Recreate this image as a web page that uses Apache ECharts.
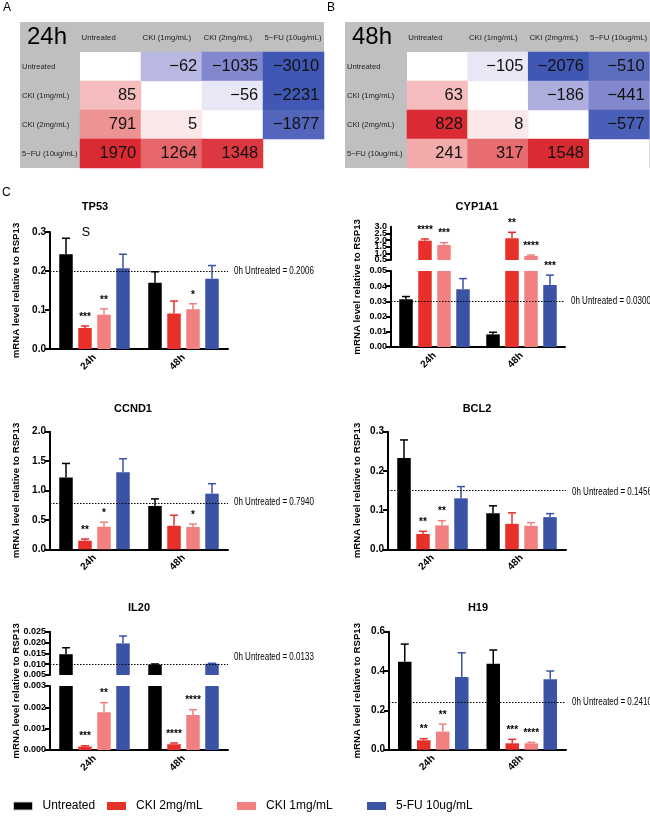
<!DOCTYPE html>
<html><head><meta charset="utf-8">
<script src="https://cdn.jsdelivr.net/npm/echarts@6/dist/echarts.min.js"></script>
<style>html,body{margin:0;padding:0;background:#fff}#c{width:650px;height:820px}</style>
</head><body><div id="c"></div>
<script>
// ---------- DATA ----------
const heatCols = ['Untreated', 'CKI (1mg/mL)', 'CKI (2mg/mL)', '5\u2212FU (10ug/mL)'];
const heatRows = ['Untreated', 'CKI (1mg/mL)', 'CKI (2mg/mL)', '5\u2212FU (10ug/mL)'];
const fold24 = [[null, -62, -1035, -3010], [85, null, -56, -2231], [791, 5, null, -1877], [1970, 1264, 1348, null]];
const fold48 = [[null, -105, -2076, -510], [63, null, -186, -441], [828, 8, null, -577], [241, 317, 1548, null]];
// colour intensity (significance shade) of each cell, 0..1
const shade24 = [[0, 0.35, 0.62, 0.95], [0.35, 0, 0.12, 0.95], [0.55, 0.12, 0, 0.85], [0.95, 0.72, 0.9, 0]];
const shade48 = [[0, 0.12, 0.95, 0.8], [0.35, 0, 0.4, 0.62], [0.95, 0.12, 0, 0.9], [0.45, 0.7, 0.95, 0]];

const groups = ['24h', '48h'];
const treatments = ['Untreated', 'CKI 2mg/mL', 'CKI 1mg/mL', '5-FU 10ug/mL'];

const tp53Mean = [[0.243, 0.170], [0.054, 0.091], [0.088, 0.102], [0.207, 0.180]];
const tp53Err = [[0.041, 0.028], [0.005, 0.032], [0.015, 0.014], [0.036, 0.034]];
const tp53Sig = [['', ''], ['***', ''], ['**', '*'], ['', '']];
const tp53Base = 0.2006;

const cyp1a1Mean = [[0.0314, 0.0083], [1.95, 2.13], [1.63, 0.80], [0.038, 0.0408]];
const cyp1a1Err = [[0.0018, 0.0014], [0.13, 0.45], [0.17, 0.07], [0.007, 0.0065]];
const cyp1a1Sig = [['', ''], ['****', '**'], ['***', '****'], ['', '***']];
const cyp1a1Base = 0.0300;

const ccnd1Mean = [[1.22, 0.737], [0.146, 0.40], [0.385, 0.38], [1.31, 0.946]];
const ccnd1Err = [[0.24, 0.12], [0.029, 0.18], [0.075, 0.05], [0.23, 0.17]];
const ccnd1Sig = [['', ''], ['**', ''], ['*', '*'], ['', '']];
const ccnd1Base = 0.7940;

const bcl2Mean = [[0.233, 0.092], [0.039, 0.065], [0.061, 0.060], [0.130, 0.082]];
const bcl2Err = [[0.046, 0.019], [0.007, 0.028], [0.012, 0.008], [0.030, 0.009]];
const bcl2Sig = [['', ''], ['**', ''], ['**', ''], ['', '']];
const bcl2Base = 0.1456;

const il20Mean = [[0.0146, 0.0098], [0.00016, 0.00027], [0.00177, 0.00164], [0.0196, 0.0102]];
const il20Err = [[0.003, 0.0003], [0.00004, 0.00006], [0.00045, 0.00025], [0.0034, 0.0002]];
const il20Sig = [['', ''], ['***', '****'], ['**', '****'], ['', '']];
const il20Base = 0.0133;

const h19Mean = [[0.447, 0.437], [0.048, 0.0325], [0.092, 0.0325], [0.37, 0.358]];
const h19Err = [[0.09, 0.07], [0.008, 0.02], [0.038, 0.005], [0.123, 0.042]];
const h19Sig = [['', ''], ['**', '***'], ['**', '****'], ['', '']];
const h19Base = 0.2410;

// ---------- LAYOUT / STYLE ----------
const colors = ['#000000', '#e8302b', '#f28080', '#3a53a4'];
const SANS = "'Liberation Sans',Arial,Helvetica,sans-serif";
const BW = 13.5, GAP = 5.5;

const panels = [
  {name: 'TP53', mean: tp53Mean, err: tp53Err, sig: tp53Sig, base: tp53Base,
   L: {left: 50, right: 228, title: [95, 207], ylab: 16,
       segs: [{top: 232, bottom: 349, min: 0, max: 0.3, interval: 0.1, dec: 1, fs: 10}]}},
  {name: 'CYP1A1', mean: cyp1a1Mean, err: cyp1a1Err, sig: cyp1a1Sig, base: cyp1a1Base,
   L: {left: 391, right: 565, title: [477, 207], ylab: 357,
       segs: [{top: 226.7, bottom: 260, min: 0.5, max: 3, interval: 0.5, dec: 1, fs: 9, dense: true},
              {top: 271, bottom: 347, min: 0, max: 0.05, interval: 0.01, dec: 2, fs: 9}]}},
  {name: 'CCND1', mean: ccnd1Mean, err: ccnd1Err, sig: ccnd1Sig, base: ccnd1Base,
   L: {left: 50, right: 228, title: [133, 409], ylab: 16,
       segs: [{top: 431.7, bottom: 549.3, min: 0, max: 2, interval: 0.5, dec: 1, fs: 10}]}},
  {name: 'BCL2', mean: bcl2Mean, err: bcl2Err, sig: bcl2Sig, base: bcl2Base,
   L: {left: 388, right: 566, title: [477, 409], ylab: 357,
       segs: [{top: 431.7, bottom: 549.3, min: 0, max: 0.3, interval: 0.1, dec: 1, fs: 10}]}},
  {name: 'IL20', mean: il20Mean, err: il20Err, sig: il20Sig, base: il20Base,
   L: {left: 50, right: 228, title: [139, 608], ylab: 16,
       segs: [{top: 631.7, bottom: 675, min: 0.005, max: 0.025, interval: 0.005, dec: 3, fs: 9},
              {top: 686, bottom: 750, min: 0, max: 0.003, interval: 0.001, dec: 3, fs: 9}]}},
  {name: 'H19', mean: h19Mean, err: h19Err, sig: h19Sig, base: h19Base,
   L: {left: 389, right: 566, title: [478, 608], ylab: 357,
       segs: [{top: 631.7, bottom: 749.7, min: 0, max: 0.6, interval: 0.2, dec: 1, fs: 10}]}}
];

const option = {
  animation: false,
  textStyle: {fontFamily: SANS},
  grid: [], xAxis: [], yAxis: [], series: [], graphic: [], legend: [], visualMap: []
};

// ---------- HEATMAPS ----------
function addHeat(values, shades, label, L) {
  const gi = option.grid.length;
  const yi = option.yAxis.length;
  option.grid.push({left: L.left, top: 52, width: L.width, height: 116, show: true,
    backgroundColor: '#ffffff', borderWidth: 0, containLabel: false});
  option.xAxis.push({type: 'category', gridIndex: gi, position: 'top', data: heatCols,
    axisLine: {show: false}, axisTick: {show: false}, splitLine: {show: false},
    axisLabel: {interval: 0, margin: 10, formatter: '{a|{value}}',
      rich: {a: {width: 58, align: 'left', fontSize: 7.8, fontFamily: SANS, color: '#222'}}}});
  option.yAxis.push({type: 'category', gridIndex: gi, inverse: true, data: heatRows,
    axisLine: {show: false}, axisTick: {show: false}, splitLine: {show: false},
    axisLabel: {interval: 0, align: 'left', margin: L.left - L.bg - 2, fontSize: 7.6, fontFamily: SANS, color: '#222'}});
  const data = [];
  values.forEach((row, r) => row.forEach((v, c) => {
    if (v !== null) data.push([c, r, v, Math.sign(v) * shades[r][c]]);
  }));
  option.series.push({type: 'heatmap', xAxisIndex: gi, yAxisIndex: yi, data: data, silent: true,
    label: {show: true, position: 'insideRight', distance: 5, fontSize: 16.5, color: '#111', fontFamily: SANS,
      formatter: p => String(p.value[2]).replace('-', '\u2212')}});
  option.visualMap.push({type: 'continuous', show: false, dimension: 3, min: -1, max: 1,
    seriesIndex: option.series.length - 1,
    inRange: {color: ['#3650b0', '#9a9ad6', '#ffffff', '#f0a0a0', '#d81e28']}});
  option.graphic.push({type: 'rect', z: -5, shape: {x: L.bg, y: 22, width: L.left + L.width - L.bg, height: 146},
    style: {fill: '#bfbfbf'}});
  option.graphic.push({type: 'text', x: L.bg + 7, y: 37, style: {text: label, font: '24px ' + SANS,
    fill: '#000', textAlign: 'left', textVerticalAlign: 'middle'}});
}
addHeat(fold24, shade24, '24h', {left: 80, width: 244, bg: 20});
addHeat(fold48, shade48, '48h', {left: 407, width: 243, bg: 345});

// ---------- BAR PANELS ----------
const baseLabels = [];
function addPanel(P) {
  const L = P.L;
  const nSeg = L.segs.length;
  L.segs.forEach((s, si) => {
    const isBottom = si === nSeg - 1;
    const gi = option.grid.length;
    const yi = option.yAxis.length;
    option.grid.push({left: L.left, width: L.right - L.left, top: s.top, height: s.bottom - s.top});
    option.xAxis.push({type: 'category', gridIndex: gi, data: groups, show: isBottom,
      axisLine: {lineStyle: {color: '#000', width: 2}},
      axisTick: {alignWithLabel: true, length: 5, lineStyle: {width: 2, color: '#000'}},
      axisLabel: {rotate: 45, fontWeight: 'bold', fontSize: 10, color: '#000', margin: 7, fontFamily: SANS}});
    const labBase = {fontSize: s.fs, fontWeight: 'bold', color: '#000', margin: 4, fontFamily: SANS};
    if (!s.dense) {
      option.yAxis.push({type: 'value', gridIndex: gi, position: 'left', min: s.min, max: s.max, interval: s.interval,
        splitLine: {show: false},
        axisLine: {show: true, lineStyle: {color: '#000', width: 2}},
        axisTick: {show: true, length: 5, lineStyle: {width: 2, color: '#000'}},
        axisLabel: Object.assign({formatter: v => v.toFixed(s.dec), showMinLabel: true, showMaxLabel: true}, labBase)});
    } else {
      // crowded scale: labels split over two coincident axes so that none is dropped
      option.yAxis.push({type: 'value', gridIndex: gi, position: 'left', offset: 0, min: s.min, max: s.max, interval: s.interval,
        splitLine: {show: false},
        axisLine: {show: true, lineStyle: {color: '#000', width: 2}},
        axisTick: {show: true, length: 5, lineStyle: {width: 2, color: '#000'}},
        axisLabel: Object.assign({formatter: (v, i) => i % 2 === 0 ? v.toFixed(s.dec) : '',
          showMinLabel: true, showMaxLabel: false}, labBase)});
      option.yAxis.push({type: 'value', gridIndex: gi, position: 'left', offset: 0, min: s.min, max: s.max, interval: s.interval,
        splitLine: {show: false}, axisLine: {show: false}, axisTick: {show: false},
        axisLabel: Object.assign({formatter: (v, i) => i % 2 === 1 ? v.toFixed(s.dec) : '',
          showMinLabel: false, showMaxLabel: true}, labBase)});
    }
    const hasBase = P.base >= s.min && P.base <= s.max;
    if (hasBase) baseLabels.push({gi: gi, base: P.base, right: L.right});
    treatments.forEach((t, k) => {
      const ser = {type: 'bar', name: t, xAxisIndex: gi, yAxisIndex: yi, data: P.mean[k],
        barWidth: BW, barGap: (GAP / BW * 100) + '%', itemStyle: {color: colors[k]},
        clip: true, silent: true, z: 2};
      if (k === 0 && hasBase) {
        ser.markLine = {silent: true, symbol: 'none', animation: false,
          data: [{yAxis: P.base}],
          lineStyle: {type: [1.5, 1.5], color: '#000', width: 1.2},
          label: {show: false}};
      }
      option.series.push(ser);
      // error bars + significance for the items whose bar top lies in this segment
      const items = [];
      groups.forEach((g, c) => {
        const m = P.mean[k][c];
        if (m >= s.min && m <= s.max) items.push({c: c, m: m, top: m + P.err[k][c], sig: P.sig[k][c]});
      });
      if (!items.length) return;
      const off = (k - 1.5) * (BW + GAP);
      option.series.push({type: 'custom', name: t + ' err', xAxisIndex: gi, yAxisIndex: yi, silent: true,
        clip: false, z: 3,
        data: items.map(it => [it.c, it.m, it.top]),
        renderItem: (params, api) => {
          const it = items[params.dataIndex];
          const p0 = api.coord([api.value(0), api.value(1)]);
          const p1 = api.coord([api.value(0), api.value(2)]);
          const x = p0[0] + off;
          const ch = [
            {type: 'line', shape: {x1: x, y1: p0[1], x2: x, y2: p1[1]}, style: {stroke: colors[k], lineWidth: 1.5}},
            {type: 'line', shape: {x1: x - 4, y1: p1[1], x2: x + 4, y2: p1[1]}, style: {stroke: colors[k], lineWidth: 1.5}}
          ];
          if (it.sig) ch.push({type: 'text', style: {text: it.sig, x: x, y: p1[1] - 4, textAlign: 'center',
            textVerticalAlign: 'bottom', font: 'bold 10px ' + SANS, fill: '#000'}});
          return {type: 'group', children: ch};
        }});
    });
  });
  const yTop = L.segs[0].top, yBot = L.segs[nSeg - 1].bottom;
  option.graphic.push({type: 'text', x: L.title[0], y: L.title[1], style: {text: P.name,
    font: 'bold 11px ' + SANS, fill: '#000', textAlign: 'center', textVerticalAlign: 'middle'}});
  option.graphic.push({type: 'text', x: L.ylab, y: (yTop + yBot) / 2, rotation: Math.PI / 2,
    style: {text: 'mRNA level relative to RSP13', font: 'bold 9.7px ' + SANS, fill: '#000',
      textAlign: 'center', textVerticalAlign: 'middle'}});
}
panels.forEach(addPanel);

// panel letters and extra text
option.graphic.push({type: 'text', x: 3, y: 8, style: {text: 'A', font: '12px ' + SANS, fill: '#000', textVerticalAlign: 'middle'}});
option.graphic.push({type: 'text', x: 327, y: 8, style: {text: 'B', font: '12px ' + SANS, fill: '#000', textVerticalAlign: 'middle'}});
option.graphic.push({type: 'text', x: 2, y: 193, style: {text: 'C', font: '12px ' + SANS, fill: '#000', textVerticalAlign: 'middle'}});
option.graphic.push({type: 'text', x: 86, y: 233, style: {text: 'S', font: '12.5px ' + SANS, fill: '#000', textAlign: 'center', textVerticalAlign: 'middle'}});

// ---------- LEGEND ----------
const legendLeft = [8, 102, 232, 362];
treatments.forEach((t, k) => {
  option.legend.push({data: [t], left: legendLeft[k], top: 795, icon: 'rect', itemWidth: 19, itemHeight: 8,
    selectedMode: false,
    itemStyle: k === 0 ? {borderColor: '#c8c8c8', borderWidth: 1} : {},
    textStyle: {fontSize: 12, fontFamily: SANS, color: '#000', padding: [0, 0, 0, 5]}});
});

const chart = echarts.init(document.getElementById('c'), null, {renderer: 'canvas'});
chart.setOption(option);

// baseline labels (condensed text), placed through the axes' own scales
baseLabels.forEach((b, i) => {
  const p = chart.convertToPixel({gridIndex: b.gi}, [1, b.base]);
  option.graphic.push({type: 'text', id: 'base' + i, x: b.right + 6, y: p[1], scaleX: 0.8,
    style: {text: '0h Untreated = ' + b.base.toFixed(4), font: '10px ' + SANS, fill: '#000',
      textAlign: 'left', textVerticalAlign: 'middle'}});
});
chart.setOption({graphic: option.graphic});
</script>
</body></html>
